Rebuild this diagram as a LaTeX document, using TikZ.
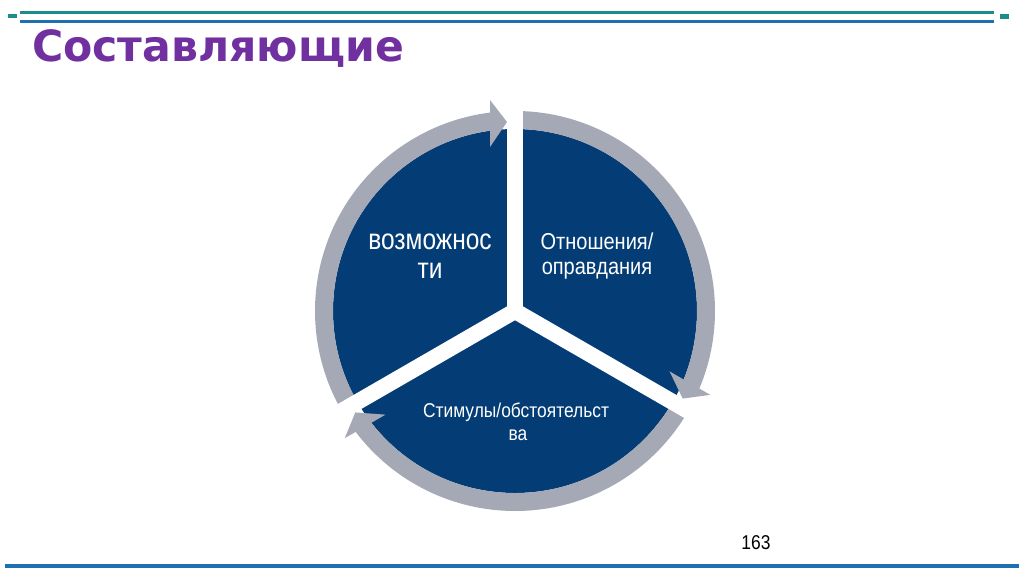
\documentclass[tikz,border=0pt]{standalone}
\usepackage{fontspec}
\usetikzlibrary{calc}
\newfontfamily\arialn[FakeStretch=0.87]{Liberation Sans}
\newfontfamily\arialnl[FakeStretch=0.845]{Liberation Sans}
\newfontfamily\titlefont[FakeStretch=0.99]{DejaVu Sans}
\definecolor{discblue}{RGB}{4,61,117}
\definecolor{ringgray}{RGB}{165,169,182}
\definecolor{titlepurple}{RGB}{112,48,160}
\definecolor{tealline}{RGB}{28,139,140}
\definecolor{blueline}{RGB}{29,113,178}
\tikzset{
  segtext/.style={text=white, inner sep=0pt, anchor=base},
  shaft/.style={fill=ringgray},
  headshape/.style={fill=ringgray},
  gapband/.style={draw=white, line width=16pt, line cap=butt},
}
\begin{document}
\begin{tikzpicture}[x=1pt,y=1pt]
\useasboundingbox (0,0) rectangle (1024,574);
\fill[white] (0,0) rectangle (1024,574);
% top and bottom rules
\fill[tealline] (20,560) rectangle (994,562.7);
\fill[blueline] (20,550.7) rectangle (994,554);
\fill[tealline] (8,556) rectangle (17,560);
\fill[tealline] (1000,555) rectangle (1009,560);
\fill[blueline] (5,6) rectangle (1019,10);
% title
\node[anchor=base west, inner sep=0pt, text=titlepurple, font=\titlefont\bfseries\fontsize{43}{43}\selectfont] (title) at (32,512) {Составляющие};
% disc
\coordinate (C) at (515,263);
\fill[discblue] (C) circle[radius=182pt];
% arrow shafts
\fill[shaft] ($(C)+(210:200pt)$) arc[start angle=210, end angle=97, radius=200pt] -- ($(C)+(97:182pt)$) arc[start angle=97, end angle=210, radius=182pt] -- cycle;
\fill[shaft] ($(C)+(90:200pt)$) arc[start angle=90, end angle=-23, radius=200pt] -- ($(C)+(-23:182pt)$) arc[start angle=-23, end angle=90, radius=182pt] -- cycle;
\fill[shaft] ($(C)+(330:200pt)$) arc[start angle=330, end angle=217, radius=200pt] -- ($(C)+(217:182pt)$) arc[start angle=217, end angle=330, radius=182pt] -- cycle;
% white gaps
\foreach \a in {90,210,330} {
  \draw[gapband] (C) -- ($(C)+(\a:216pt)$);
}
% arrow heads
\foreach \a in {90,210,330} {
  \fill[headshape] ($(C)+(\a:211pt)+(\a+90:25pt)$) -- ($(C)+(\a:189pt)+(\a+90:8pt)$) -- ($(C)+(\a:164pt)+(\a+90:25pt)$) -- cycle;
}
% texts
\node[segtext, font=\arialnl\fontsize{29}{29}\selectfont] (l1) at (430,324.5) {возможнос};
\node[segtext, font=\arialnl\fontsize{29}{29}\selectfont] (l2) at (430,295.5) {ти};
\node[segtext, font=\arialn\fontsize{23}{23}\selectfont] (r1) at (597,324.5) {Отношения/};
\node[segtext, font=\arialn\fontsize{23}{23}\selectfont] (r2) at (597,299.5) {оправдания};
\node[segtext, font=\arialn\fontsize{20}{20}\selectfont] (b1) at (516,157) {Стимулы/обстоятельст};
\node[segtext, font=\arialn\fontsize{20}{20}\selectfont] (b2) at (518,134) {ва};
\node[anchor=base, inner sep=0pt, font=\arialn\fontsize{20}{20}\selectfont] (page) at (756,25) {163};
\end{tikzpicture}
\end{document}
